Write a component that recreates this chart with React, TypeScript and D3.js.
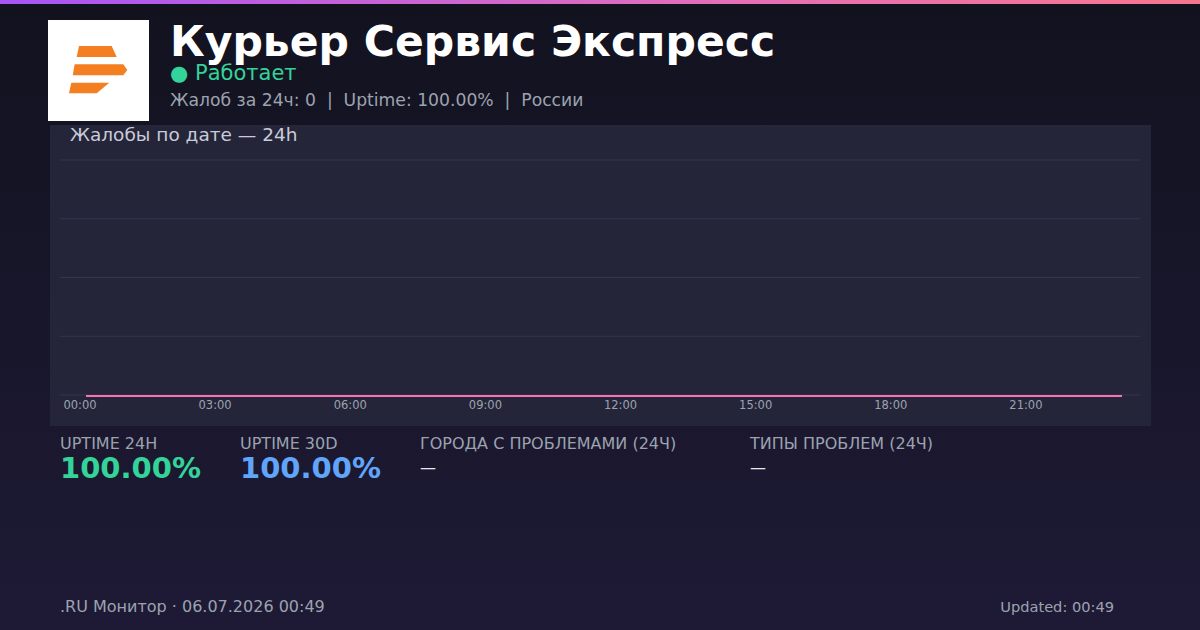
import * as d3 from 'd3';
import React from 'react';

// 24 hourly buckets, complaints per hour (all zero)
const hours: number[] = [0, 1, 2, 3, 4, 5, 6, 7, 8, 9, 10, 11, 12, 13, 14, 15, 16, 17, 18, 19, 20, 21, 22, 23];
const complaints: number[] = [0, 0, 0, 0, 0, 0, 0, 0, 0, 0, 0, 0, 0, 0, 0, 0, 0, 0, 0, 0, 0, 0, 0, 0];
const tickHours: number[] = [0, 3, 6, 9, 12, 15, 18, 21];
const tickLabels: string[] = ['00:00', '03:00', '06:00', '09:00', '12:00', '15:00', '18:00', '21:00'];
const yTicks: number[] = [0, 1, 2, 3, 4];

const statLabels: string[] = ['UPTIME 24H', 'UPTIME 30D', 'ГОРОДА С ПРОБЛЕМАМИ (24Ч)', 'ТИПЫ ПРОБЛЕМ (24Ч)'];
const statValues: string[] = ['100.00%', '100.00%', '—', '—'];

const W = 1200;
const H = 630;
const FONT = '"DejaVu Sans", sans-serif';

const App: React.FC = () => {
    const x = d3.scaleLinear().domain([0, 23]).range([86, 1122]);
    const y = d3.scaleLinear().domain([0, 4]).range([395, 160]);

    const line = d3
        .line<number>()
        .x((d, i) => x(hours[i]))
        .y((d) => y(d) + 1);

    const statX = [60, 240, 420, 750];
    const statColor = ['#34d399', '#60a5fa', '#e5e7eb', '#e5e7eb'];

    return (
        <svg
            width={W}
            height={H}
            style={{ position: 'absolute', left: 0, top: 0 }}
            fontFamily={FONT}
        >
            <defs>
                <linearGradient id="bg" x1="0" y1="0" x2="0" y2="1">
                    <stop offset="0" stopColor="#12121f" />
                    <stop offset="1" stopColor="#1e1a36" />
                </linearGradient>
                <linearGradient id="topbar" x1="0" y1="0" x2="1" y2="0">
                    <stop offset="0" stopColor="#a855f7" />
                    <stop offset="0.6" stopColor="#e36fb8" />
                    <stop offset="1" stopColor="#f7768e" />
                </linearGradient>
            </defs>
            <rect width={W} height={H} fill="url(#bg)" />
            <rect width={W} height={4} fill="url(#topbar)" />

            {/* логотип */}
            <rect x={48} y={20} width={101} height={101} fill="#ffffff" />
            <g fill="#f47f20">
                <polygon points="79,46 111.7,46 116.7,57 76.7,57" />
                <polygon points="74.7,64.3 123.3,64.3 127.3,70 123.3,75.3 72.7,75.3" />
                <polygon points="71.3,82.7 109.3,82.7 96.7,93.3 69,93.3" />
            </g>

            <text x={170} y={56} fill="#ffffff" fontSize={42.5} fontWeight="bold">
                Курьер Сервис Экспресс
            </text>
            <text x={170} y={80} fill="#34d399" fontSize={21}>
                ● Работает
            </text>
            <text x={170} y={106} fill="#9ca3af" fontSize={17.2} style={{ whiteSpace: 'pre' }}>
                {'Жалоб за 24ч: 0  |  Uptime: 100.00%  |  России'}
            </text>

            {/* панель графика */}
            <rect x={50} y={125} width={1101} height={301} fill="#25253a" />
            <text x={70} y={141} fill="#c9cbd8" fontSize={18.5}>
                Жалобы по дате — 24h
            </text>
            {yTicks.map((t) => (
                <line key={t} x1={60} x2={1140} y1={y(t)} y2={y(t)} stroke="#35354b" strokeWidth={1} />
            ))}
            <path d={line(complaints) ?? ''} fill="none" stroke="#f472b6" strokeWidth={2} />
            {tickHours.map((h, i) => (
                <text key={h} x={x(h) - 6} y={409} textAnchor="middle" fill="#9ca3af" fontSize={11.5}>
                    {tickLabels[i]}
                </text>
            ))}

            {/* показатели */}
            {statLabels.map((s, i) => (
                <g key={s}>
                    <text x={statX[i]} y={449} fill="#9ca3af" fontSize={16}>
                        {s}
                    </text>
                    <text
                        x={statX[i]}
                        y={i < 2 ? 478 : 473}
                        fill={statColor[i]}
                        fontSize={i < 2 ? 29 : 16}
                        fontWeight={i < 2 ? 'bold' : 'normal'}
                    >
                        {statValues[i]}
                    </text>
                </g>
            ))}

            <text x={60} y={612} fill="#9ca3af" fontSize={16}>
                .RU Монитор · 06.07.2026 00:49
            </text>
            <text x={1114} y={612} fill="#9ca3af" fontSize={14.6} textAnchor="end">
                Updated: 00:49
            </text>
        </svg>
    );
};

export default App;
